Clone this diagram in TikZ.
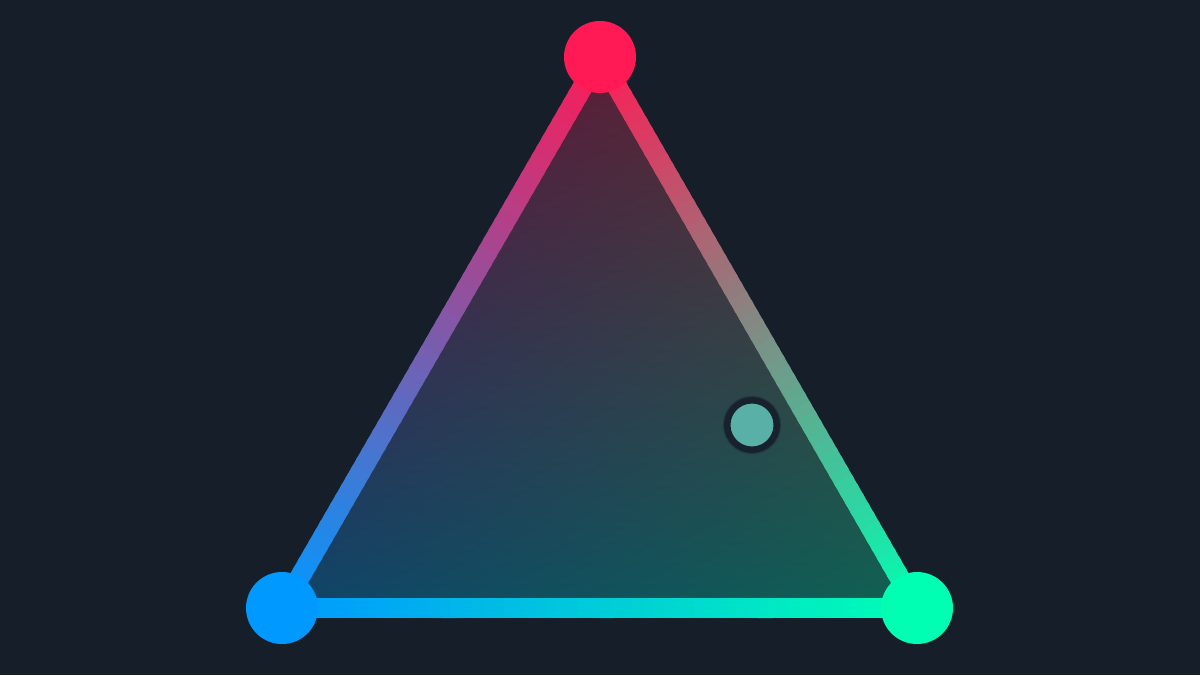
\documentclass[tikz,border=0pt]{standalone}
\usetikzlibrary{calc}
\definecolor{bg}{HTML}{161F29}
\definecolor{cRed}{HTML}{FF1A55}
\definecolor{cBlue}{HTML}{0099FF}
\definecolor{cGreen}{HTML}{00FFB3}
\definecolor{ringc}{HTML}{18222E}
\definecolor{dotfill}{HTML}{58B0A6}
% interior: barycentric blend of the three vertex colours over the background
\pgfdeclarefunctionalshading{trifill}{\pgfpointorigin}{\pgfpoint{317.5bp}{275.5bp}}{}{
2 copy 0.0010962 mul exch 0 mul add 0.059 add 3 1 roll
2 copy -0.00075351 mul exch 0.0003685 mul add 0.267 add 3 1 roll
-0.00056235 mul exch -0.00028346 mul add 0.412 add
}
\tikzset{
  vertexdot/.style={circle, inner sep=0pt, outer sep=0pt, minimum size=36bp},
  edgeseg/.style={line width=10bp, line cap=butt},
}
\begin{document}
\begin{tikzpicture}[x=0.5bp, y=-0.5bp]
\fill[bg] (0,0) rectangle (1200,675);
\useasboundingbox (0,0) rectangle (1200,675);
\coordinate (A) at (600,57);
\coordinate (B) at (282,608);
\coordinate (C) at (917,608);
% interior
\begin{scope}
  \clip (A) -- (B) -- (C) -- cycle;
  \node[inner sep=0pt, outer sep=0pt, anchor=south west] (fillbox) at (B) {\pgfuseshading{trifill}};
\end{scope}
% gradient edges
\foreach \P/\Q/\cp/\cq in {A/B/cRed/cBlue, A/C/cRed/cGreen, B/C/cBlue/cGreen}{
  \foreach \i in {0,...,59}{
    \pgfmathsetmacro{\ta}{\i/60}
    \pgfmathsetmacro{\tb}{min(1,(\i+1.4)/60)}
    \pgfmathtruncatemacro{\pc}{round(100*(\i+0.5)/60)}
    \draw[edgeseg, color=\cq!\pc!\cp] ($(\P)!\ta!(\Q)$) -- ($(\P)!\tb!(\Q)$);
  }
}
% vertices
\node[vertexdot, fill=cRed] (top) at (A) {};
\node[vertexdot, fill=cBlue] (left) at (B) {};
\node[vertexdot, fill=cGreen] (right) at (C) {};
% handle
\draw[ringc, line width=4.5bp, opacity=0.35] (752,425) circle (24.75);
\node[circle, inner sep=0pt, minimum size=24.75bp, fill=dotfill, draw=ringc, line width=3.25bp] (handle) at (752,425) {};
\end{tikzpicture}
\end{document}
